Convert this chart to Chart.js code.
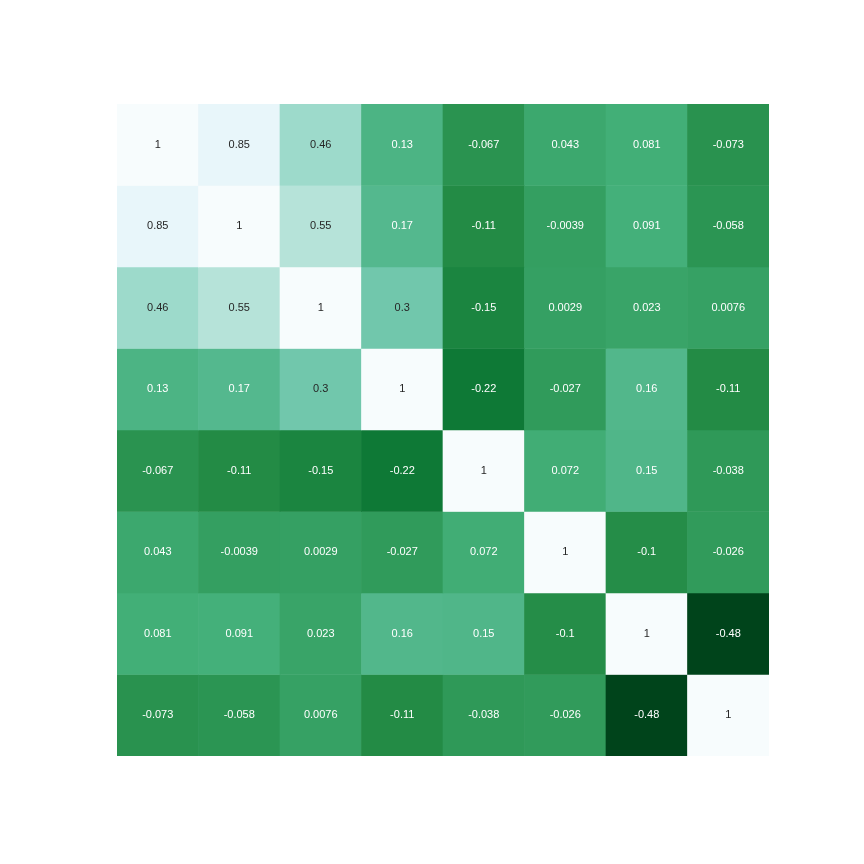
<!DOCTYPE html>
<html>
<head>
<meta charset="utf-8">
<script src="https://cdn.jsdelivr.net/npm/chart.js@4/dist/chart.umd.min.js"></script>
<style>
html,body{margin:0;padding:0;background:#ffffff;}
#wrap{width:864px;height:864px;position:relative;}
</style>
</head>
<body>
<div id="wrap"><canvas id="c" width="864" height="864"></canvas></div>
<script>
// Column / row categories (unlabelled in the reference)
const columns = ['0','1','2','3','4','5','6','7'];
const rows = ['0','1','2','3','4','5','6','7'];

// Correlation values, one array per row
const row0 = [1, 0.85, 0.46, 0.13, -0.067, 0.043, 0.081, -0.073];
const row1 = [0.85, 1, 0.55, 0.17, -0.11, -0.0039, 0.091, -0.058];
const row2 = [0.46, 0.55, 1, 0.3, -0.15, 0.0029, 0.023, 0.0076];
const row3 = [0.13, 0.17, 0.3, 1, -0.22, -0.027, 0.16, -0.11];
const row4 = [-0.067, -0.11, -0.15, -0.22, 1, 0.072, 0.15, -0.038];
const row5 = [0.043, -0.0039, 0.0029, -0.027, 0.072, 1, -0.1, -0.026];
const row6 = [0.081, 0.091, 0.023, 0.16, 0.15, -0.1, 1, -0.48];
const row7 = [-0.073, -0.058, 0.0076, -0.11, -0.038, -0.026, -0.48, 1];
const matrix = [row0, row1, row2, row3, row4, row5, row6, row7];

// BuGn colormap stops (ColorBrewer), reversed use
const bugn = ['#f7fcfd','#e5f5f9','#ccece6','#99d8c9','#66c2a4','#41ae76','#238b45','#006d2c','#00441b'];
function hex2rgb(h){return [parseInt(h.substr(1,2),16),parseInt(h.substr(3,2),16),parseInt(h.substr(5,2),16)];}
const stops = bugn.map(hex2rgb);
let vmin = Infinity, vmax = -Infinity;
matrix.forEach(r => r.forEach(v => { vmin = Math.min(vmin, v); vmax = Math.max(vmax, v); }));
function colorFor(v){
  const t = (v - vmin) / (vmax - vmin);
  const s = 1 - t; // reversed
  const pos = s * (stops.length - 1);
  const i = Math.min(Math.floor(pos), stops.length - 2);
  const f = pos - i;
  const a = stops[i], b = stops[i+1];
  return a.map((c, k) => Math.round(c + (b[k] - c) * f));
}
function lum(rgb){
  const c = rgb.map(x => { x /= 255; return x <= 0.03928 ? x / 12.92 : Math.pow((x + 0.055) / 1.055, 2.4); });
  return 0.2126*c[0] + 0.7152*c[1] + 0.0722*c[2];
}

const datasets = rows.map((r, ri) => ({
  label: 'row ' + r,
  data: columns.map(() => [ri, ri + 1]),
  values: matrix[ri],
  backgroundColor: matrix[ri].map(v => { const c = colorFor(v); return 'rgb(' + c.join(',') + ')'; }),
  borderWidth: 0,
  barPercentage: 1.0,
  categoryPercentage: 1.0,
  grouped: false
}));

const annotPlugin = {
  id: 'annot',
  afterDatasetsDraw(chart){
    const ctx = chart.ctx;
    ctx.save();
    ctx.font = '11px "Liberation Sans", Arial, sans-serif';
    ctx.textAlign = 'center';
    ctx.textBaseline = 'middle';
    chart.data.datasets.forEach((ds, di) => {
      const meta = chart.getDatasetMeta(di);
      meta.data.forEach((bar, i) => {
        const v = ds.values[i];
        const c = colorFor(v);
        ctx.fillStyle = lum(c) > 0.408 ? '#262626' : '#ffffff';
        const cy = (bar.y + bar.base) / 2;
        ctx.fillText(String(v), bar.x, cy);
      });
    });
    ctx.restore();
  }
};

new Chart(document.getElementById('c'), {
  type: 'bar',
  data: { labels: columns, datasets: datasets },
  options: {
    responsive: false,
    animation: false,
    layout: { padding: { left: 117, right: 95, top: 104, bottom: 108 } },
    plugins: { legend: { display: false }, tooltip: { enabled: false } },
    scales: {
      x: { type: 'category', display: false, offset: true, grid: { display: false } },
      y: { type: 'linear', display: false, min: 0, max: 8, reverse: true, grid: { display: false } }
    }
  },
  plugins: [annotPlugin]
});
</script>
</body>
</html>
